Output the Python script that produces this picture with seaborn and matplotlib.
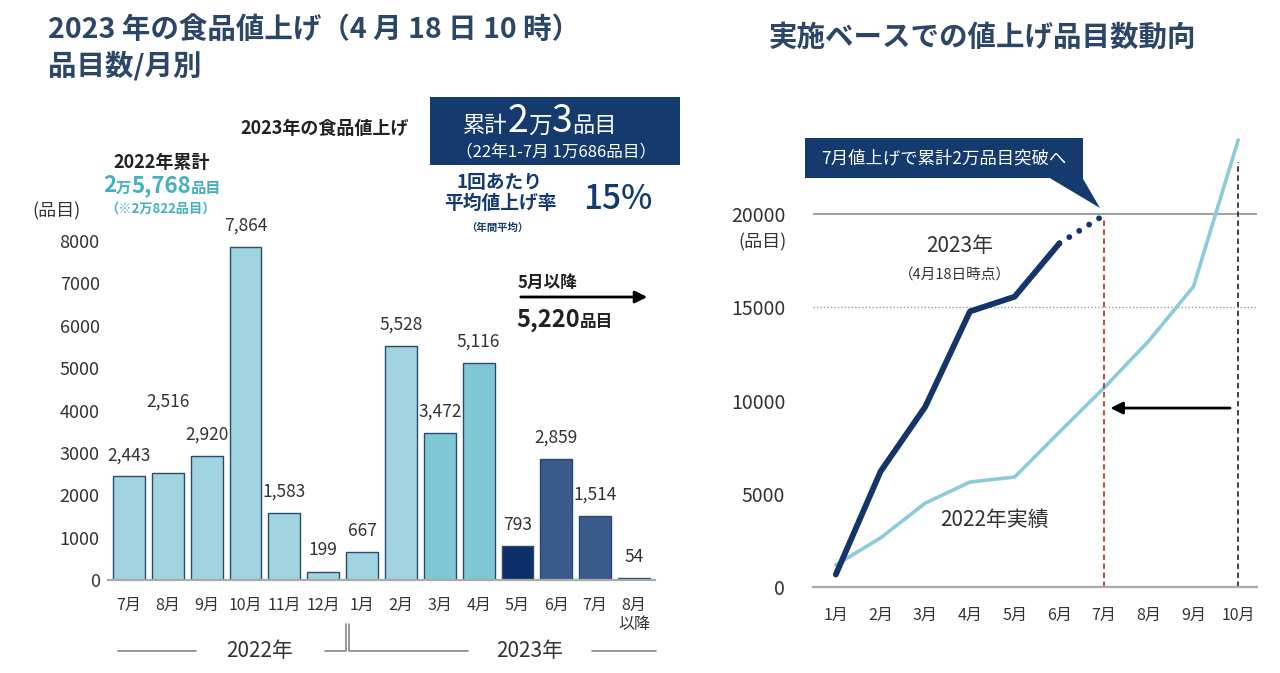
import pandas as pd
import matplotlib
matplotlib.use('Agg')
import matplotlib.pyplot as plt
import seaborn as sns
from matplotlib.patches import Rectangle, Polygon, FancyArrowPatch
from matplotlib.lines import Line2D
from matplotlib.offsetbox import TextArea, HPacker, AnnotationBbox

# left chart: items per month
bar_months = ['7月', '8月', '9月', '10月', '11月', '12月', '1月', '2月', '3月', '4月',
              '5月', '6月', '7月', '8月\n以降']
bar_values = [2443, 2516, 2920, 7864, 1583, 199, 667, 5528, 3472, 5116, 793, 2859, 1514, 54]
bar_text = ['2,443', '2,516', '2,920', '7,864', '1,583', '199', '667', '5,528', '3,472',
            '5,116', '793', '2,859', '1,514', '54']
bar_group = ['done'] * 8 + ['recent'] * 2 + ['may'] + ['plan'] * 3
group_colors = {'done': '#9fd4e0', 'recent': '#7ec7d4', 'may': '#0c2f6a', 'plan': '#3a5a8b'}

# right chart: cumulative items
line_months = ['1月', '2月', '3月', '4月', '5月', '6月', '7月', '8月', '9月', '10月']
cum_2022 = [1180, 2630, 4500, 5630, 5900, 8310, 10686, 13202, 16122, 23986]
cum_2023 = [667, 6195, 9667, 14783, 15576, 18435]
cum_2023_plan = [18435, 19949]

W, H = 1280, 673
NAVY = '#143a6e'
TITLE = '#2c4668'
TEAL = '#45b0c0'
GREY = '#333333'

sns.set_theme(style='white')
plt.rcParams['font.family'] = ['Noto Sans CJK JP', 'DejaVu Sans']

fig = plt.figure(figsize=(W / 100, H / 100), dpi=100)


def P(px, py):
    return px / W, 1 - py / H


def ftext(px, py, s, **kw):
    kw.setdefault('ha', 'left')
    kw.setdefault('va', 'center')
    kw.setdefault('color', GREY)
    fig.text(*P(px, py), s, **kw)


def mixed(px, py, parts, color, weight='bold', align=(0.5, 0.5)):
    areas = [TextArea(s, textprops=dict(size=sz, color=color, weight=weight,
                                        family=['Noto Sans CJK JP', 'DejaVu Sans']))
             for s, sz in parts]
    box = HPacker(children=areas, align='baseline', pad=0, sep=0)
    ab = AnnotationBbox(box, P(px, py), xycoords='figure fraction', frameon=False,
                        box_alignment=align, pad=0)
    fig.add_artist(ab)


def fline(pts, **kw):
    xs = [p[0] / W for p in pts]
    ys = [1 - p[1] / H for p in pts]
    fig.add_artist(Line2D(xs, ys, transform=fig.transFigure, **kw))


# ---------------- left chart ----------------
ax = fig.add_axes([108 / W, (H - 580) / H, (655 - 108) / W, (580 - 241) / H])
df = pd.DataFrame({'pos': range(len(bar_values)), 'value': bar_values, 'group': bar_group})
sns.barplot(data=df, x='pos', y='value', hue='group', palette=group_colors, dodge=False,
            width=0.82, saturation=1, edgecolor='#2b4a6e', linewidth=1, legend=False, ax=ax)
ax.set_xlim(-0.54, 13.54)
ax.set_ylim(0, 8000)
ax.set_yticks(range(0, 8001, 1000))
ax.set_yticklabels([str(v) for v in range(0, 8001, 1000)], fontsize=13, color=GREY)
ax.set_xticks(range(len(bar_months)))
ax.set_xticklabels(bar_months, fontsize=11.5, color=GREY, linespacing=1.2)
ax.tick_params(axis='both', length=0)
ax.tick_params(axis='x', pad=12)
ax.tick_params(axis='y', pad=6)
ax.set_xlabel('')
ax.set_ylabel('')
for s in ['top', 'right', 'left']:
    ax.spines[s].set_visible(False)
ax.spines['bottom'].set_color('#aaaaaa')
ax.spines['bottom'].set_linewidth(1.6)

label_lift = {1: 1700}
for i, (v, t) in enumerate(zip(bar_values, bar_text)):
    ax.text(i, v + label_lift.get(i, 500), t, ha='center', va='center', fontsize=12.5,
            color=GREY, clip_on=False)

# year brackets under left chart
fline([(118, 651), (196, 651)], color='#888888', lw=1.2)
fline([(325, 651), (346, 651), (346, 624)], color='#888888', lw=1.2)
fline([(349, 624), (349, 651), (468, 651)], color='#888888', lw=1.2)
fline([(592, 651), (656, 651)], color='#888888', lw=1.2)
ftext(260, 651, '2022年', ha='center', fontsize=15)
ftext(530, 651, '2023年', ha='center', fontsize=15)

# titles and annotations, left
ftext(48, 30, '2023 年の食品値上げ（4 月 18 日 10 時）', fontsize=20.5, weight='bold', color=TITLE)
ftext(48, 66, '品目数/月別', fontsize=20.5, weight='bold', color=TITLE)
ftext(32, 211, '(品目)', fontsize=13)

ftext(162, 162, '2022年累計', ha='center', fontsize=13, weight='bold', color='#222222')
mixed(162, 186, [('2', 16), ('万', 11), ('5,768', 16), ('品目', 11)], TEAL)
ftext(160, 209, '（※2万822品目）', ha='center', fontsize=9.5, weight='bold', color=TEAL)

ftext(325, 128, '2023年の食品値上げ', ha='center', fontsize=13, weight='bold', color='#222222')
fig.add_artist(Rectangle(P(430, 165), 250 / W, 68 / H, transform=fig.transFigure,
                         facecolor=NAVY, edgecolor='none'))
mixed(540, 122, [('累計', 16), ('2', 27), ('万', 17), ('3', 27), ('品目', 16)], 'white',
      weight='normal')
ftext(556, 152, '（22年1-7月 1万686品目）', ha='center', fontsize=12, color='white')
ftext(500, 183, '1回あたり', ha='center', fontsize=13.5, weight='bold', color=NAVY)
ftext(500, 203, '平均値上げ率', ha='center', fontsize=13.5, weight='bold', color=NAVY)
ftext(497, 228, '（年間平均）', ha='center', fontsize=7.5, weight='bold', color=NAVY)
ftext(618, 199, '15%', ha='center', fontsize=24, weight='medium', color=NAVY)

ftext(518, 283, '5月以降', fontsize=12, weight='bold', color='#222222')
fig.add_artist(FancyArrowPatch(P(518, 297), P(650, 297), transform=fig.transFigure,
                               arrowstyle='-|>', mutation_scale=18, color='black', lw=2))
mixed(516, 320, [('5,220', 17), ('品目', 12)], '#222222', align=(0, 0.5))

# ---------------- right chart ----------------
ax2 = fig.add_axes([813 / W, (H - 587) / H, (1257 - 813) / W, (587 - 121) / H])
xs = list(range(len(line_months)))
sns.lineplot(x=xs, y=cum_2022, ax=ax2, color='#8ccbd7', lw=2.6)
sns.lineplot(x=xs[:len(cum_2023)], y=cum_2023, ax=ax2, color='#14356a', lw=4.2)
sns.lineplot(x=[5, 6], y=cum_2023_plan, ax=ax2, color='#14356a', lw=4.2,
             linestyle=(0, (0.01, 2.0)), dash_capstyle='round')
ax2.set_xlim(-0.51, 9.42)
ax2.set_ylim(0, 25000)
ax2.set_yticks([0, 5000, 10000, 15000, 20000])
ax2.set_yticklabels(['0', '5000', '10000', '15000', '20000'], fontsize=14, color=GREY)
ax2.set_xticks(xs)
ax2.set_xticklabels(line_months, fontsize=11.5, color=GREY)
ax2.tick_params(axis='both', length=0)
ax2.tick_params(axis='x', pad=14)
ax2.tick_params(axis='y', pad=20)
for s in ['top', 'right', 'left']:
    ax2.spines[s].set_visible(False)
ax2.spines['bottom'].set_color('#aaaaaa')
ax2.spines['bottom'].set_linewidth(1.6)

ax2.axhline(20000, color='#999999', lw=1.3, zorder=0)
ax2.axhline(15000, color='#999999', lw=1, linestyle=(0, (1, 1.5)), zorder=0)
ax2.plot([6, 6], [0, 19700], color='#c0392b', lw=1.3, linestyle=(0, (3, 2)))
ax2.plot([9, 9], [0, 22800], color='#333333', lw=1.3, linestyle=(0, (3, 2)))
ax2.annotate('', xy=(6.08, 9600), xytext=(8.88, 9600),
             arrowprops=dict(arrowstyle='-|>', color='black', lw=2, mutation_scale=18))

ftext(983, 38, '実施ベースでの値上げ品目数動向', ha='center', fontsize=20.5, weight='bold',
      color=TITLE)
ftext(762, 242, '(品目)', ha='center', fontsize=13)
ftext(960, 246, '2023年', ha='center', fontsize=15)
ftext(955, 275, '（4月18日時点）', ha='center', fontsize=10.5)
ftext(995, 520, '2022年実績', ha='center', fontsize=15)

fig.add_artist(Rectangle(P(805, 178), 278 / W, 40 / H, transform=fig.transFigure,
                         facecolor=NAVY, edgecolor='none'))
fig.add_artist(Polygon([P(1048, 177), P(1082, 177), P(1100, 208)], closed=True,
                       transform=fig.transFigure, facecolor=NAVY, edgecolor='none'))
ftext(944, 158, '7月値上げで累計2万品目突破へ', ha='center', fontsize=12.5, color='white')

fig.savefig('out.png', dpi=100)
